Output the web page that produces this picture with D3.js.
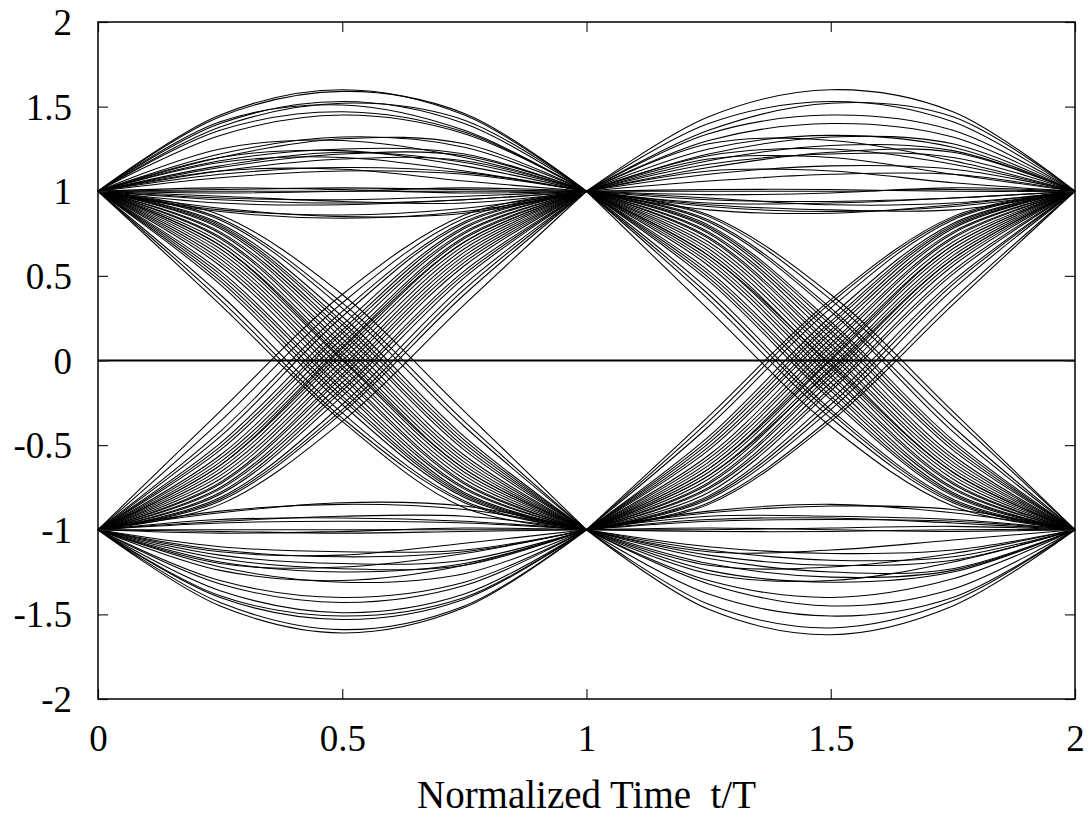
<!DOCTYPE html>
<html>
<head>
<meta charset="utf-8">
<script src="https://cdn.jsdelivr.net/npm/d3@7"></script>
<style>
  body { margin: 0; background: #fff; }
  .chart text { fill: #000; }
</style>
</head>
<body>
<div class="chart"></div>
<script>
(function() {
    'use strict';

    // DATA ***************************************************************
    var xTicks = [0, 0.5, 1, 1.5, 2];
    var yTicks = [-2, -1.5, -1, -0.5, 0, 0.5, 1, 1.5, 2];
    var xLabel = 'Normalized Time  t/T';

    // each trace: values read at t = 0.25, 0.5, 0.75 inside one symbol period
    var sampleOffsets = [0, 0.25, 0.5, 0.75, 1];

    // symbol 0 -> 1
    var aHighHold = [
        [1.45, 1.60, 1.45], [1.44, 1.59, 1.46], [1.40, 1.53, 1.40], [1.38, 1.52, 1.42],
        [1.41, 1.51, 1.36], [1.36, 1.47, 1.35], [1.33, 1.45, 1.34], [1.22, 1.32, 1.26],
        [1.25, 1.30, 1.20], [1.20, 1.31, 1.28], [1.18, 1.25, 1.22], [1.20, 1.24, 1.15],
        [1.14, 1.22, 1.21], [1.17, 1.20, 1.12], [1.12, 1.19, 1.18], [1.15, 1.23, 1.17],
        [1.10, 1.14, 1.11], [1.08, 1.12, 1.10], [1.12, 1.13, 1.06], [1.01, 1.02, 1.01],
        [1.00, 1.00, 1.00], [1.02, 1.01, 0.99], [0.99, 1.00, 1.02], [0.96, 0.95, 0.97],
        [0.95, 0.93, 0.95], [0.97, 0.94, 0.93], [0.93, 0.92, 0.95], [0.89, 0.86, 0.90],
        [0.88, 0.84, 0.88], [0.90, 0.85, 0.87]
    ];
    var aFall = [
        [0.33, -0.36, -0.87], [0.36, -0.34, -0.84], [0.39, -0.31, -0.83], [0.45, -0.26, -0.81],
        [0.47, -0.23, -0.80], [0.49, -0.21, -0.79], [0.51, -0.18, -0.78], [0.53, -0.16, -0.76],
        [0.56, -0.13, -0.75], [0.58, -0.10, -0.73], [0.60, -0.08, -0.72], [0.62, -0.05, -0.70],
        [0.64, -0.03, -0.68], [0.66, 0.00, -0.66], [0.68, 0.01, -0.64], [0.68, 0.03, -0.64],
        [0.70, 0.05, -0.62], [0.72, 0.08, -0.60], [0.73, 0.10, -0.58], [0.75, 0.13, -0.56],
        [0.76, 0.16, -0.53], [0.78, 0.18, -0.51], [0.79, 0.21, -0.49], [0.80, 0.23, -0.47],
        [0.81, 0.26, -0.45], [0.83, 0.31, -0.39], [0.84, 0.34, -0.36], [0.86, 0.39, -0.30]
    ];
    var aRise = [
        [-0.30, 0.39, 0.86], [-0.36, 0.34, 0.84], [-0.42, 0.29, 0.82], [-0.45, 0.26, 0.81],
        [-0.49, 0.21, 0.79], [-0.51, 0.18, 0.78], [-0.53, 0.16, 0.76], [-0.56, 0.13, 0.75],
        [-0.58, 0.10, 0.73], [-0.60, 0.08, 0.72], [-0.62, 0.05, 0.70], [-0.64, 0.03, 0.68],
        [-0.66, 0.00, 0.66], [-0.68, -0.03, 0.64], [-0.70, -0.05, 0.62], [-0.72, -0.08, 0.60],
        [-0.73, -0.10, 0.58], [-0.75, -0.13, 0.56], [-0.76, -0.16, 0.53], [-0.78, -0.18, 0.51],
        [-0.79, -0.21, 0.49], [-0.81, -0.26, 0.45], [-0.82, -0.29, 0.42], [-0.83, -0.31, 0.39],
        [-0.85, -0.36, 0.33], [-0.62, 0.07, 0.70]
    ];
    var aLowHold = [
        [-1.45, -1.61, -1.46], [-1.43, -1.59, -1.45], [-1.40, -1.53, -1.41], [-1.39, -1.51, -1.40],
        [-1.36, -1.49, -1.38], [-1.32, -1.43, -1.33], [-1.30, -1.40, -1.31], [-1.22, -1.31, -1.26],
        [-1.24, -1.30, -1.21], [-1.19, -1.25, -1.20], [-1.17, -1.23, -1.21], [-1.20, -1.22, -1.14],
        [-1.15, -1.20, -1.18], [-1.12, -1.16, -1.13], [-1.10, -1.13, -1.12], [-1.13, -1.15, -1.08],
        [-1.01, -1.02, -1.01], [-1.00, -1.00, -1.00], [-1.02, -1.01, -0.99], [-0.96, -0.95, -0.96],
        [-0.94, -0.93, -0.95], [-0.95, -0.92, -0.92], [-0.89, -0.85, -0.88], [-0.90, -0.84, -0.86]
    ];

    // symbol 1 -> 2
    var bHighHold = [
        [1.44, 1.60, 1.47], [1.40, 1.53, 1.41], [1.36, 1.52, 1.44], [1.34, 1.45, 1.36],
        [1.30, 1.40, 1.32], [1.25, 1.33, 1.26], [1.22, 1.32, 1.28], [1.28, 1.30, 1.18],
        [1.18, 1.27, 1.24], [1.21, 1.25, 1.16], [1.16, 1.22, 1.20], [1.14, 1.23, 1.23],
        [1.19, 1.20, 1.10], [1.10, 1.15, 1.13], [1.12, 1.12, 1.05], [1.06, 1.10, 1.10],
        [1.01, 1.01, 1.00], [1.00, 1.00, 1.01], [0.98, 0.99, 1.02], [0.95, 0.94, 0.96],
        [0.96, 0.92, 0.93], [0.93, 0.93, 0.96], [0.91, 0.88, 0.91], [0.92, 0.89, 0.89],
        [0.89, 0.87, 0.92]
    ];
    var bFall = [
        [0.30, -0.39, -0.86], [0.36, -0.34, -0.84], [0.39, -0.31, -0.83], [0.42, -0.29, -0.82],
        [0.47, -0.23, -0.80], [0.49, -0.21, -0.79], [0.51, -0.18, -0.78], [0.53, -0.16, -0.76],
        [0.56, -0.13, -0.75], [0.58, -0.10, -0.73], [0.60, -0.08, -0.72], [0.62, -0.05, -0.70],
        [0.64, -0.03, -0.68], [0.62, -0.02, -0.66], [0.66, 0.00, -0.66], [0.68, 0.03, -0.64],
        [0.70, 0.05, -0.62], [0.72, 0.08, -0.60], [0.73, 0.10, -0.58], [0.75, 0.13, -0.56],
        [0.76, 0.16, -0.53], [0.78, 0.18, -0.51], [0.79, 0.21, -0.49], [0.80, 0.23, -0.47],
        [0.82, 0.29, -0.42], [0.83, 0.31, -0.39], [0.85, 0.36, -0.33], [0.86, 0.39, -0.30]
    ];
    var bRise = [
        [-0.33, 0.36, 0.85], [-0.36, 0.34, 0.84], [-0.39, 0.31, 0.83], [-0.45, 0.26, 0.81],
        [-0.47, 0.23, 0.80], [-0.49, 0.21, 0.79], [-0.51, 0.18, 0.78], [-0.53, 0.16, 0.76],
        [-0.56, 0.13, 0.75], [-0.58, 0.10, 0.73], [-0.60, 0.08, 0.72], [-0.62, 0.05, 0.70],
        [-0.64, 0.03, 0.68], [-0.66, 0.00, 0.66], [-0.64, 0.01, 0.68], [-0.68, -0.03, 0.64],
        [-0.70, -0.05, 0.62], [-0.72, -0.08, 0.60], [-0.73, -0.10, 0.58], [-0.75, -0.13, 0.56],
        [-0.76, -0.16, 0.53], [-0.78, -0.18, 0.51], [-0.80, -0.23, 0.47], [-0.81, -0.26, 0.45],
        [-0.82, -0.29, 0.42], [-0.84, -0.34, 0.36], [-0.85, -0.36, 0.33], [-0.68, -0.06, 0.60]
    ];
    var bLowHold = [
        [-1.47, -1.62, -1.45], [-1.44, -1.58, -1.42], [-1.38, -1.51, -1.40], [-1.32, -1.45, -1.35],
        [-1.30, -1.40, -1.29], [-1.24, -1.31, -1.25], [-1.26, -1.30, -1.19], [-1.20, -1.28, -1.24],
        [-1.17, -1.25, -1.23], [-1.21, -1.22, -1.14], [-1.15, -1.21, -1.18], [-1.12, -1.18, -1.16],
        [-1.10, -1.14, -1.12], [-1.13, -1.12, -1.06], [-1.01, -1.01, -1.00], [-0.99, -1.00, -1.01],
        [-1.00, -0.99, -0.98], [-0.95, -0.94, -0.95], [-0.94, -0.93, -0.96], [-0.92, -0.92, -0.94],
        [-0.90, -0.86, -0.88], [-0.89, -0.85, -0.90]
    ];

    // groups: which symbol period, start level, end level
    var groups = [
        {t0: 0, from: 1, to: 1, traces: aHighHold},
        {t0: 0, from: 1, to: -1, traces: aFall},
        {t0: 0, from: -1, to: 1, traces: aRise},
        {t0: 0, from: -1, to: -1, traces: aLowHold},
        {t0: 1, from: 1, to: 1, traces: bHighHold},
        {t0: 1, from: 1, to: -1, traces: bFall},
        {t0: 1, from: -1, to: 1, traces: bRise},
        {t0: 1, from: -1, to: -1, traces: bLowHold}
    ];

    // LAYOUT *************************************************************
    var W = 1090, H = 818;
    var margin = {top: 22, right: 15, bottom: 119, left: 98};
    var width = W - margin.left - margin.right,
        height = H - margin.top - margin.bottom;
    var fontFamily = '"Liberation Serif", "Times New Roman", Times, Tinos, "Nimbus Roman", FreeSerif, "DejaVu Serif", serif';
    var fs = 37;

    var svg = d3.select('.chart').append('svg')
                .attr('width', W)
                .attr('height', H)
              .append('g')
                .attr('transform', 'translate(' + margin.left + ',' + margin.top + ')');

    var xScale = d3.scaleLinear().domain([0, 2]).range([0, width]);
    var yScale = d3.scaleLinear().domain([-2, 2]).range([height, 0]);

    var line = d3.line()
                 .curve(d3.curveCatmullRom.alpha(0.5))
                 .x(function(d) { return xScale(d[0]); })
                 .y(function(d) { return yScale(d[1]); });

    // TRACES
    var traceG = svg.append('g').attr('class', 'traces');
    groups.forEach(function(g) {
        g.traces.forEach(function(tr) {
            var vals = [g.from].concat(tr, [g.to]);
            var pts = vals.map(function(v, i) { return [g.t0 + sampleOffsets[i], v]; });
            traceG.append('path')
                .attr('d', line(pts))
                .attr('fill', 'none')
                .attr('stroke', '#000')
                .attr('stroke-width', 1.05);
        });
    });

    // ZERO LINE
    svg.append('line')
        .attr('x1', xScale(0)).attr('x2', xScale(2))
        .attr('y1', yScale(0)).attr('y2', yScale(0))
        .attr('stroke', '#000')
        .attr('stroke-width', 2);

    // AXES (ticks inward, mirrored)
    var tickLen = 10;
    var plain = function(d) { return String(d); };

    var yAxisL = d3.axisLeft(yScale).tickValues(yTicks).tickSizeInner(-tickLen).tickSizeOuter(0)
                   .tickPadding(26).tickFormat(plain);
    var yAxisR = d3.axisRight(yScale).tickValues(yTicks).tickSizeInner(-tickLen).tickSizeOuter(0)
                   .tickFormat('');
    var xAxisB = d3.axisBottom(xScale).tickValues(xTicks).tickSizeInner(-tickLen).tickSizeOuter(0)
                   .tickPadding(27).tickFormat(plain);
    var xAxisT = d3.axisTop(xScale).tickValues(xTicks).tickSizeInner(-tickLen).tickSizeOuter(0)
                   .tickFormat('');

    var axes = [
        svg.append('g').call(yAxisL),
        svg.append('g').attr('transform', 'translate(' + width + ',0)').call(yAxisR),
        svg.append('g').attr('transform', 'translate(0,' + height + ')').call(xAxisB),
        svg.append('g').call(xAxisT)
    ];
    axes.forEach(function(a) {
        a.attr('font-family', fontFamily).attr('font-size', fs);
        a.select('.domain').remove();
        a.selectAll('.tick line').attr('stroke', '#222').attr('stroke-width', 1.2);
        a.selectAll('text').attr('fill', '#000');
    });
    axes[0].selectAll('text').attr('dy', '0.34em');
    axes[2].selectAll('text').attr('dy', '0.68em');

    // FRAME
    svg.append('rect')
        .attr('x', 0).attr('y', 0)
        .attr('width', width).attr('height', height)
        .attr('fill', 'none')
        .attr('stroke', '#000')
        .attr('stroke-width', 1.5);

    // X LABEL
    svg.append('text')
        .attr('x', width / 2)
        .attr('y', 786)
        .attr('text-anchor', 'middle')
        .attr('font-family', fontFamily)
        .attr('font-size', 39)
        .style('white-space', 'pre')
        .text(xLabel);
}());
</script>
</body>
</html>
